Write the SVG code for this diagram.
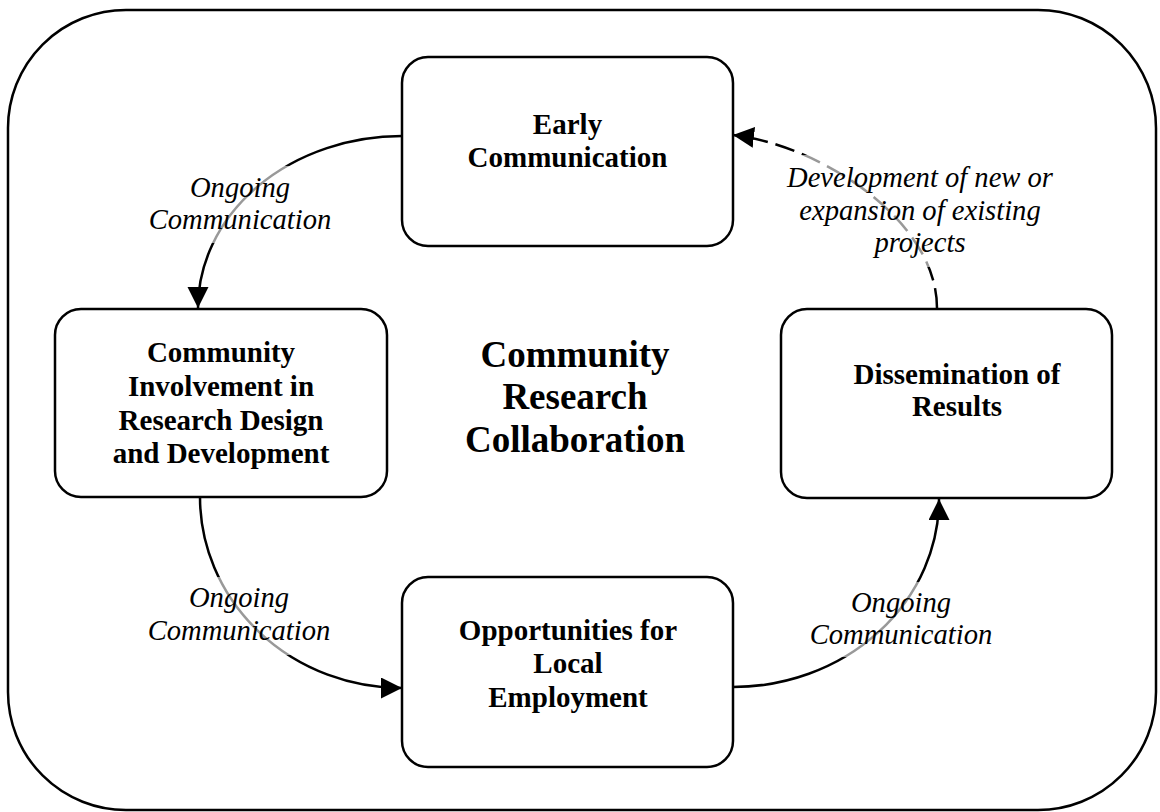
<svg xmlns="http://www.w3.org/2000/svg" width="1160" height="812" viewBox="0 0 1160 812">
  <style>
    .frame { fill: #fff; stroke: #000; stroke-width: 2.5; }
    .box { fill: #fff; stroke: #000; stroke-width: 2.5; }
    .node-text { font-family: "Liberation Serif", "Times New Roman", serif; font-weight: bold; font-size: 29px; fill: #000; text-anchor: middle; }
    .title { font-family: "Liberation Serif", "Times New Roman", serif; font-weight: bold; font-size: 37px; fill: #000; text-anchor: middle; }
    .label { font-family: "Liberation Serif", "Times New Roman", serif; font-style: italic; font-size: 28.6px; fill: #000; text-anchor: middle; }
    .link { fill: none; stroke: #000; stroke-width: 2.5; }
    .dashed { stroke-dasharray: 20 8; }
    .veil { fill: #fff; fill-opacity: 0.6; stroke: none; }
  </style>
  <defs>
    <marker id="arrow" markerUnits="userSpaceOnUse" markerWidth="22" markerHeight="22" refX="21" refY="10.5" orient="auto">
      <path d="M0,0 L21,10.5 L0,21 z" fill="#000"/>
    </marker>
  </defs>

  <!-- outer frame -->
  <rect class="frame" x="8" y="10" width="1148" height="800" rx="118" ry="118"/>

  <!-- connectors -->
  <g id="connectors">
    <path class="link" d="M402,136 A204,172 0 0 0 198,308" marker-end="url(#arrow)"/>
    <path class="link" d="M200,497 A202,191 0 0 0 402,688" marker-end="url(#arrow)"/>
    <path class="link" d="M733,687 A206,188 0 0 0 939,499" marker-end="url(#arrow)"/>
    <path class="link dashed" d="M937,308 C937,220 820,145 733,135" marker-end="url(#arrow)"/>
  </g>

  <!-- connector labels (translucent backing softens the lines behind them) -->
  <g id="labels">
    <rect class="veil" x="145" y="166" width="190" height="77"/>
    <text class="label"><tspan x="240" y="197">Ongoing</tspan><tspan x="240" y="229">Communication</tspan></text>

    <rect class="veil" x="145" y="577" width="190" height="78"/>
    <text class="label"><tspan x="239" y="607">Ongoing</tspan><tspan x="239" y="640">Communication</tspan></text>

    <rect class="veil" x="805" y="582" width="192" height="75"/>
    <text class="label"><tspan x="901" y="612">Ongoing</tspan><tspan x="901" y="644">Communication</tspan></text>

    <rect class="veil" x="783" y="155" width="276" height="112"/>
    <text class="label"><tspan x="920" y="187">Development of new or</tspan><tspan x="920" y="220">expansion of existing</tspan><tspan x="920" y="252">projects</tspan></text>
  </g>

  <!-- nodes -->
  <g id="early-communication">
    <rect class="box" x="402" y="57" width="331" height="189" rx="26" ry="26"/>
    <text class="node-text"><tspan x="567.5" y="134">Early</tspan><tspan x="567.5" y="167">Communication</tspan></text>
  </g>

  <g id="community-involvement">
    <rect class="box" x="55" y="309" width="332" height="188" rx="26" ry="26"/>
    <text class="node-text"><tspan x="221" y="362">Community</tspan><tspan x="221" y="396">Involvement in</tspan><tspan x="221" y="430">Research Design</tspan><tspan x="221" y="463">and Development</tspan></text>
  </g>

  <g id="dissemination">
    <rect class="box" x="781" y="309" width="331" height="189" rx="26" ry="26"/>
    <text class="node-text"><tspan x="957" y="384">Dissemination of</tspan><tspan x="957" y="416">Results</tspan></text>
  </g>

  <g id="local-employment">
    <rect class="box" x="402" y="577" width="331" height="190" rx="26" ry="26"/>
    <text class="node-text"><tspan x="568" y="640">Opportunities for</tspan><tspan x="568" y="673">Local</tspan><tspan x="568" y="707">Employment</tspan></text>
  </g>

  <!-- central title -->
  <g id="title">
    <text class="title"><tspan x="575" y="367">Community</tspan><tspan x="575" y="409">Research</tspan><tspan x="575" y="452">Collaboration</tspan></text>
  </g>
</svg>
